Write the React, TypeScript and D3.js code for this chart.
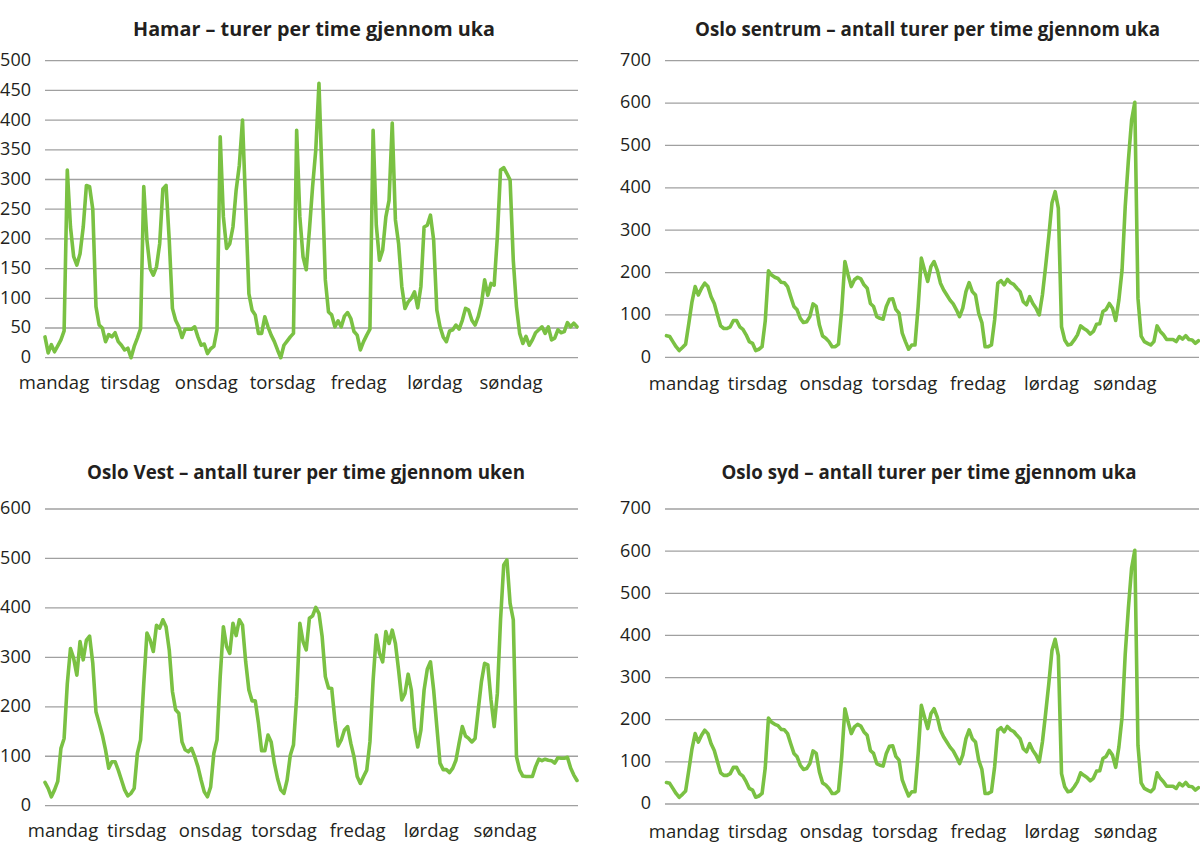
import * as d3 from "d3"

// Day labels on the category axis
const days = ["mandag", "tirsdag", "onsdag", "torsdag", "fredag", "lørdag", "søndag"]

// Y-axis ticks per panel
const hamarTicks = [0, 50, 100, 150, 200, 250, 300, 350, 400, 450, 500]
const osloTicks = [0, 100, 200, 300, 400, 500, 600, 700]
const vestTicks = [0, 100, 200, 300, 400, 500, 600]

// Trips per hour, monday 00 -> sunday 23 (168 values each)
const hamarValues = [
  35, 8, 22, 10, 20, 30, 45, 316, 220, 170,
  156, 175, 220, 290, 288, 250, 86, 55, 50, 27,
  39, 35, 42, 27, 21, 13, 16, 0, 19, 33,
  49, 288, 198, 150, 139, 153, 192, 284, 290, 198,
  83, 63, 52, 34, 48, 48, 48, 52, 35, 21,
  23, 7, 15, 19, 47, 372, 237, 184, 192, 220,
  282, 324, 400, 254, 108, 80, 72, 41, 41, 69,
  52, 38, 27, 13, 0, 21, 28, 35, 41, 383,
  237, 170, 148, 215, 288, 350, 462, 299, 131, 77,
  72, 52, 62, 52, 70, 76, 66, 44, 38, 13,
  27, 38, 48, 383, 223, 164, 181, 237, 265, 395,
  232, 192, 120, 83, 94, 100, 111, 84, 120, 220,
  223, 240, 198, 80, 52, 35, 27, 45, 47, 55,
  48, 63, 83, 80, 63, 55, 69, 91, 131, 105,
  125, 122, 204, 316, 320, 310, 299, 164, 86, 41,
  24, 36, 21, 30, 42, 47, 52, 41, 52, 30,
  33, 47, 42, 44, 59, 52, 58, 52,
]

const osloSentrumValues = [
  51, 49, 37, 25, 16, 23, 31, 80, 131, 167,
  147, 163, 175, 167, 143, 127, 100, 74, 68, 68,
  72, 87, 87, 72, 66, 53, 37, 33, 16, 19,
  25, 86, 204, 194, 189, 186, 177, 176, 167, 143,
  120, 112, 92, 82, 84, 96, 126, 120, 76, 50,
  45, 37, 25, 25, 31, 112, 226, 195, 167, 183,
  189, 185, 171, 163, 127, 120, 96, 92, 90, 120,
  137, 138, 113, 104, 57, 37, 19, 29, 29, 120,
  234, 206, 179, 214, 226, 206, 175, 159, 147, 135,
  126, 112, 96, 116, 155, 176, 155, 147, 104, 82,
  25, 25, 29, 88, 175, 181, 171, 184, 176, 172,
  163, 155, 131, 124, 143, 127, 116, 100, 147, 214,
  285, 364, 391, 352, 72, 41, 29, 31, 41, 53,
  74, 68, 63, 55, 61, 78, 79, 108, 113, 127,
  116, 87, 135, 206, 356, 466, 560, 602, 139, 50,
  37, 33, 29, 37, 74, 61, 53, 42, 42, 42,
  37, 49, 43, 51, 42, 41, 33, 39,
]

const osloVestValues = [
  47, 35, 18, 32, 49, 116, 136, 247, 318, 298,
  264, 332, 295, 335, 343, 288, 190, 167, 143, 113,
  76, 89, 89, 72, 52, 32, 20, 25, 35, 106,
  133, 247, 349, 335, 312, 365, 359, 376, 362, 315,
  231, 194, 187, 129, 113, 109, 116, 99, 79, 52,
  28, 18, 38, 106, 133, 261, 362, 322, 308, 369,
  344, 376, 365, 291, 234, 212, 212, 167, 111, 111,
  143, 129, 86, 55, 32, 25, 52, 102, 123, 220,
  369, 332, 315, 379, 384, 401, 389, 342, 261, 238,
  237, 173, 121, 133, 153, 160, 126, 99, 59, 45,
  59, 72, 129, 254, 345, 308, 291, 352, 328, 355,
  328, 274, 214, 227, 266, 234, 156, 119, 153, 234,
  276, 291, 234, 160, 86, 73, 73, 67, 76, 92,
  127, 160, 141, 136, 129, 136, 194, 251, 288, 285,
  214, 160, 227, 376, 487, 497, 409, 376, 99, 72,
  60, 59, 59, 59, 79, 94, 91, 94, 92, 91,
  86, 97, 96, 96, 98, 76, 62, 51,
]

// Oslo syd is drawn with the same figures as Oslo sentrum in the source
const osloSydValues = osloSentrumValues

const GREEN = "#7ac143"
const TEXT = "#231f20"
const GRID = "#a0a0a0"
const FONT = "'Open Sans', 'Noto Sans', sans-serif"

interface PanelProps {
  title: string
  titleWidth: number
  values: number[]
  ticks: number[]
  left: number
  right: number
  top: number
  bottom: number
  lineLeft: number
  lineRight: number
  labelFirst: number
  labelLast: number
  labelY: number
  titleX: number
  titleY: number
}

const Panel = (p: PanelProps) => {
  const x = d3
    .scaleLinear()
    .domain([0, p.values.length - 1])
    .range([p.lineLeft, p.lineRight])
  const y = d3
    .scaleLinear()
    .domain([0, d3.max(p.ticks) || 0])
    .range([p.bottom, p.top])
  const dayX = d3.scalePoint<string>().domain(days).range([p.labelFirst, p.labelLast])
  const line = d3
    .line<number>()
    .x((_, i) => x(i))
    .y(d => y(d))

  return (
    <g>
      <text
        x={p.titleX}
        y={p.titleY}
        textAnchor="middle"
        fontWeight="bold"
        fontSize={19.5}
        textLength={p.titleWidth}
        lengthAdjust="spacingAndGlyphs"
        fill={TEXT}
      >
        {p.title}
      </text>
      {p.ticks.map(t => (
        <g key={t}>
          <line
            x1={p.left}
            x2={p.right}
            y1={y(t)}
            y2={y(t)}
            stroke={GRID}
            strokeWidth={1.3}
          />
          <text
            x={p.left - 14}
            y={y(t)}
            dy="0.3em"
            textAnchor="end"
            fontSize={18}
            fill={TEXT}
          >
            {t}
          </text>
        </g>
      ))}
      <path
        d={line(p.values) || ""}
        fill="none"
        stroke={GREEN}
        strokeWidth={3.6}
        strokeLinejoin="round"
        strokeLinecap="round"
      />
      {days.map(d => (
        <text
          key={d}
          x={dayX(d)}
          y={p.labelY}
          textAnchor="middle"
          fontSize={18.5}
          fill={TEXT}
        >
          {d}
        </text>
      ))}
    </g>
  )
}

const App = () => {
  return (
    <svg
      width={1200}
      height={856}
      style={{ position: "absolute", left: 0, top: 0, background: "#fff" }}
      fontFamily={FONT}
    >
      <Panel
        title="Hamar – turer per time gjennom uka"
        titleWidth={362}
        values={hamarValues}
        ticks={hamarTicks}
        left={45}
        right={578}
        top={60.7}
        bottom={357.7}
        lineLeft={45}
        lineRight={577}
        labelFirst={54}
        labelLast={511}
        labelY={389}
        titleX={314}
        titleY={35.5}
      />
      <Panel
        title="Oslo sentrum – antall turer per time gjennom uka"
        titleWidth={465}
        values={osloSentrumValues}
        ticks={osloTicks}
        left={665}
        right={1199}
        top={60.7}
        bottom={357.3}
        lineLeft={666.5}
        lineRight={1198.5}
        labelFirst={684}
        labelLast={1125}
        labelY={390}
        titleX={927.5}
        titleY={35.5}
      />
      <Panel
        title="Oslo Vest – antall turer per time gjennom uken"
        titleWidth={438}
        values={osloVestValues}
        ticks={vestTicks}
        left={45}
        right={578}
        top={509}
        bottom={805.7}
        lineLeft={45}
        lineRight={577}
        labelFirst={63}
        labelLast={505}
        labelY={837}
        titleX={306}
        titleY={479}
      />
      <Panel
        title="Oslo syd – antall turer per time gjennom uka"
        titleWidth={415}
        values={osloSydValues}
        ticks={osloTicks}
        left={665}
        right={1199}
        top={509}
        bottom={804}
        lineLeft={666.5}
        lineRight={1198.5}
        labelFirst={684}
        labelLast={1125.5}
        labelY={838}
        titleX={929}
        titleY={479}
      />
    </svg>
  )
}

export default App
